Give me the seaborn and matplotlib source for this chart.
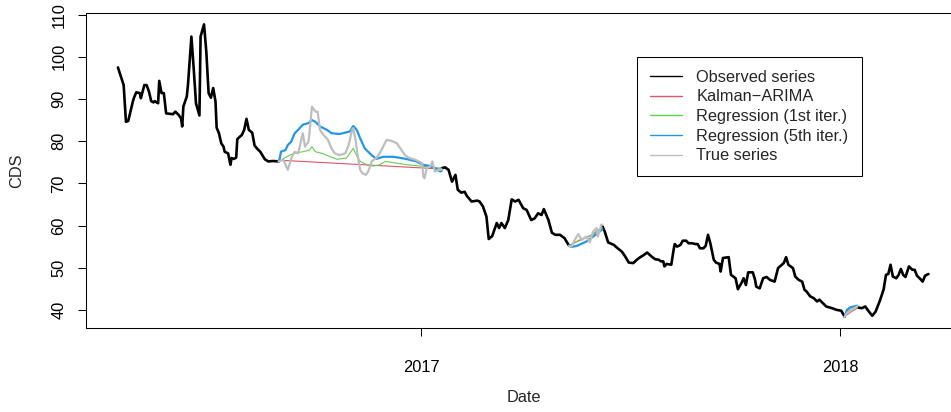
import numpy as np
import pandas as pd
import matplotlib
matplotlib.use('Agg')
import matplotlib.pyplot as plt
import seaborn as sns
from matplotlib.lines import Line2D

# days are counted from 2017-01-01
obs1_day = [-264, -259, -257, -255, -251, -250, -248, -245, -244, -241, -239, -237, -235, -233, -232,
            -229, -228, -226, -224, -222, -219, -216, -214, -211, -209, -208, -207, -204, -203, -200,
            -198, -196, -193, -192, -189, -187, -185, -183, -181, -179, -178, -176, -174, -172, -171,
            -168, -166, -165, -163, -161, -160, -156, -154, -152, -150, -147, -145, -143, -140, -136,
            -133, -129, -124]
obs1_val = [97.5, 93.3, 84.6, 84.8, 89.4, 90.3, 91.6, 91.4, 90.2, 93.3, 93.3, 91.8, 89.5, 89.2, 89.5,
            89.0, 94.3, 91.4, 91.4, 86.6, 86.5, 86.4, 87.0, 86.2, 85.4, 83.5, 88.2, 90.6, 93.3, 104.8,
            97.3, 89.0, 86.1, 104.8, 107.7, 101.2, 91.4, 90.3, 92.6, 89.4, 83.2, 81.9, 79.5, 78.7, 77.5,
            77.1, 74.4, 76.0, 75.8, 76.1, 80.5, 81.5, 82.7, 85.3, 82.7, 82.0, 79.0, 78.3, 77.5, 75.7,
            75.2, 75.3, 75.2]

obs2_day = [18, 21, 24, 27, 30, 32, 35, 38, 40, 44, 49, 51, 54, 57, 59, 62, 66, 68, 70, 73, 76, 79,
            82, 85, 89, 92, 96, 99, 102, 105, 107, 111, 114, 117, 121, 125, 129]
obs2_val = [73.6, 73.8, 73.2, 70.4, 72.0, 68.5, 67.8, 68.0, 67.0, 65.7, 65.9, 65.7, 64.5, 62.1, 56.8,
            57.5, 60.6, 59.4, 60.6, 59.4, 61.3, 66.2, 65.7, 66.1, 64.1, 63.7, 61.3, 61.7, 62.9, 62.5,
            63.9, 61.3, 58.3, 57.8, 57.8, 57.0, 55.2]

obs3_day = [158, 160, 163, 168, 170, 175, 178, 181, 185, 188, 191, 194, 197, 201, 204, 207, 209, 211,
            212, 214, 218, 220, 221, 223, 226, 228, 231, 233, 236, 239, 241, 243, 246, 248, 250, 252,
            255, 257, 260, 261, 263, 268, 270, 274, 276, 279, 281, 283, 285, 289, 291, 292, 295, 298,
            301, 304, 308, 311, 316, 318, 320, 324, 326, 329, 332, 334, 336, 339, 342, 345, 347, 350,
            353, 358, 362, 366, 369]
obs3_val = [59.8, 58.6, 56.0, 55.4, 54.9, 53.8, 52.6, 51.2, 51.1, 51.9, 52.5, 53.0, 53.6, 52.6, 52.0,
            51.9, 51.5, 51.5, 50.3, 50.9, 50.7, 54.2, 55.6, 55.0, 55.4, 56.4, 56.4, 55.8, 55.8, 55.6,
            55.6, 54.6, 54.6, 55.2, 57.8, 55.8, 51.9, 51.2, 50.9, 49.1, 52.3, 52.5, 48.3, 47.5, 44.9,
            46.3, 47.5, 45.9, 48.9, 48.9, 47.1, 45.5, 45.1, 47.5, 47.8, 47.1, 46.7, 49.9, 51.1, 52.5,
            50.7, 49.9, 47.9, 47.1, 46.7, 44.8, 44.3, 43.2, 42.8, 42.0, 42.4, 41.6, 40.8, 40.4, 40.0,
            39.8, 38.4]

obs4_day = [380, 384, 387, 389, 393, 396, 400, 403, 405, 407, 409, 411, 414, 416, 418, 420, 422, 425,
            428, 430, 432, 435, 437, 439, 442]
obs4_val = [40.6, 40.4, 40.8, 40.0, 38.6, 39.6, 42.4, 44.9, 48.3, 48.5, 50.7, 47.9, 47.5, 48.3, 49.7,
            48.3, 47.8, 50.3, 49.5, 49.5, 48.1, 47.3, 46.7, 48.1, 48.5]

# first missing window
g1_red_day = [-124, -56, 18]
g1_red_val = [75.5, 74.5, 73.4]
g1_green_day = [-124, -117, -111, -103, -97, -95, -92, -86, -79, -73, -65, -59, -57, -53, -47, -42,
                -36, -31, -24, -12, -1, 11, 18]
g1_green_val = [75.2, 76.3, 77.1, 77.5, 77.9, 78.7, 77.5, 77.1, 76.3, 75.7, 76.0, 78.3, 77.1, 75.2,
                74.4, 74.1, 74.4, 75.2, 74.9, 74.4, 74.1, 73.8, 73.6]
g1_blue_day = [-124, -123, -122, -118, -116, -113, -110, -107, -103, -98, -95, -92, -88, -82, -78, -71,
               -62, -59, -56, -53, -49, -43, -39, -33, -24, -15, -10, -4, 2, 8, 12, 17, 18]
g1_blue_val = [75.2, 76.0, 77.5, 77.9, 79.1, 79.9, 81.9, 82.7, 83.9, 84.3, 85.0, 84.6, 83.5, 82.7, 81.9,
               81.7, 82.3, 83.6, 82.7, 80.7, 78.3, 76.7, 75.8, 76.3, 76.3, 75.9, 75.6, 75.2, 74.4,
               74.1, 73.6, 72.8, 73.0]
g1_true_day = [-124, -120, -116, -113, -110, -107, -105, -103, -101, -98, -97, -95, -92, -90, -88, -85,
               -81, -78, -75, -71, -66, -63, -60, -59, -57, -55, -53, -51, -48, -46, -43, -39, -36,
               -33, -30, -26, -21, -18, -14, -10, -5, -2, 1, 2, 3, 5, 8, 10, 12, 15, 18]
g1_true_val = [75.2, 75.6, 73.2, 76.0, 77.5, 77.1, 79.5, 81.9, 78.7, 79.9, 82.3, 88.2, 87.0, 87.0, 82.7,
               81.5, 80.3, 78.3, 77.1, 76.7, 77.1, 79.1, 82.7, 83.1, 80.3, 76.3, 73.2, 72.4, 72.0,
               72.8, 75.2, 76.0, 77.1, 78.7, 80.3, 80.1, 79.5, 78.3, 76.7, 76.0, 75.6, 75.2, 74.8,
               71.6, 71.2, 73.6, 74.0, 75.2, 72.8, 73.2, 73.3]

# second missing window
g2_red_day = [129, 136, 147, 158]
g2_red_val = [55.2, 56.2, 57.5, 59.6]
g2_green_day = [129, 138, 149, 158]
g2_green_val = [55.2, 56.6, 57.8, 59.4]
g2_blue_day = [129, 131, 136, 144, 150, 158]
g2_blue_val = [55.2, 54.9, 55.2, 56.2, 57.4, 59.1]
g2_true_day = [129, 131, 134, 137, 140, 144, 147, 150, 153, 154, 157, 158]
g2_true_val = [55.2, 55.0, 56.6, 58.0, 56.6, 57.4, 56.0, 58.6, 59.4, 57.4, 60.2, 60.2]

# third missing window
g3_red_day = [369, 371, 375, 380]
g3_red_val = [38.4, 38.8, 39.6, 40.4]
g3_green_day = [369, 371, 375, 380]
g3_green_val = [38.4, 39.6, 40.2, 40.6]
g3_blue_day = [369, 371, 374, 380]
g3_blue_val = [38.4, 40.0, 40.6, 41.0]
g3_true_day = [369, 371, 375, 380]
g3_true_val = [38.4, 39.2, 40.0, 40.8]

labels = ['Observed series', 'Kalman\u2212ARIMA', 'Regression (1st iter.)',
          'Regression (5th iter.)', 'True series']
colors = ['#000000', '#DF536B', '#61D04F', '#2297E6', '#BEBEBE']
widths = [1.9, 0.8, 0.8, 1.6, 1.6]

origin = pd.Timestamp('2017-01-01')

segments = {
    labels[0]: [(obs1_day, obs1_val), (obs2_day, obs2_val), (obs3_day, obs3_val), (obs4_day, obs4_val)],
    labels[1]: [(g1_red_day, g1_red_val), (g2_red_day, g2_red_val), (g3_red_day, g3_red_val)],
    labels[2]: [(g1_green_day, g1_green_val), (g2_green_day, g2_green_val), (g3_green_day, g3_green_val)],
    labels[3]: [(g1_blue_day, g1_blue_val), (g2_blue_day, g2_blue_val), (g3_blue_day, g3_blue_val)],
    labels[4]: [(g1_true_day, g1_true_val), (g2_true_day, g2_true_val), (g3_true_day, g3_true_val)],
}

frames = []
for name, segs in segments.items():
    for k, (d, v) in enumerate(segs):
        frames.append(pd.DataFrame({'series': name, 'segment': k,
                                    'Date': origin + pd.to_timedelta(d, unit='D'), 'CDS': v}))
df = pd.concat(frames, ignore_index=True)

sns.set_style('ticks')
plt.rcParams['font.family'] = ['Liberation Sans', 'DejaVu Sans']
plt.rcParams['font.size'] = 11.8

fig = plt.figure(figsize=(9.51, 4.12), dpi=100)
ax = fig.add_axes([86 / 951, 84 / 412, 875.4 / 951, 315 / 412])

#draw observed first, then the reconstructions; true series on top
for name, col, lw in zip(labels, colors, widths):
    sns.lineplot(data=df[df['series'] == name], x='Date', y='CDS', units='segment',
                 estimator=None, sort=False, color=col, lw=lw, ax=ax, legend=False)

ax.set_xlim(origin - pd.Timedelta(days=291.8), origin + pd.Timedelta(days=470.7))
ax.set_ylim(35.7, 110.4)
ax.set_xticks([pd.Timestamp('2017-01-01'), pd.Timestamp('2018-01-01')])
ax.set_xticklabels(['2017', '2018'])
ax.set_yticks([40, 50, 60, 70, 80, 90, 100, 110])
ax.set_yticklabels(['40', '50', '60', '70', '80', '90', '100', '110'], rotation=90, va='center')
ax.tick_params(axis='both', direction='out', length=6.1, width=0.75, colors='black', labelsize=11.8)
ax.tick_params(axis='x', pad=17)
ax.tick_params(axis='y', pad=8)
ax.set_xlabel('')
ax.set_ylabel('')
for s in ax.spines.values():
    s.set_linewidth(0.75)
    s.set_color('black')

fig.text(523.7 / 951, 1 - 398 / 412, 'Date', ha='center', va='center', fontsize=11.8)
fig.text(17 / 951, 1 - 170.5 / 412, 'CDS', ha='center', va='center', rotation=90, fontsize=11.8)

handles = [Line2D([], [], color=c, lw=1) for c in colors]
leg = ax.legend(handles, labels, loc='upper left', bbox_to_anchor=(0.629, 0.861), borderaxespad=0,
                fontsize=11.8, frameon=True, fancybox=False, framealpha=1, edgecolor='black',
                handlelength=1.95, handletextpad=0.9, labelspacing=0.28, borderpad=0.8)
leg.get_frame().set_linewidth(0.75)

fig.savefig('out.png', dpi=100)
